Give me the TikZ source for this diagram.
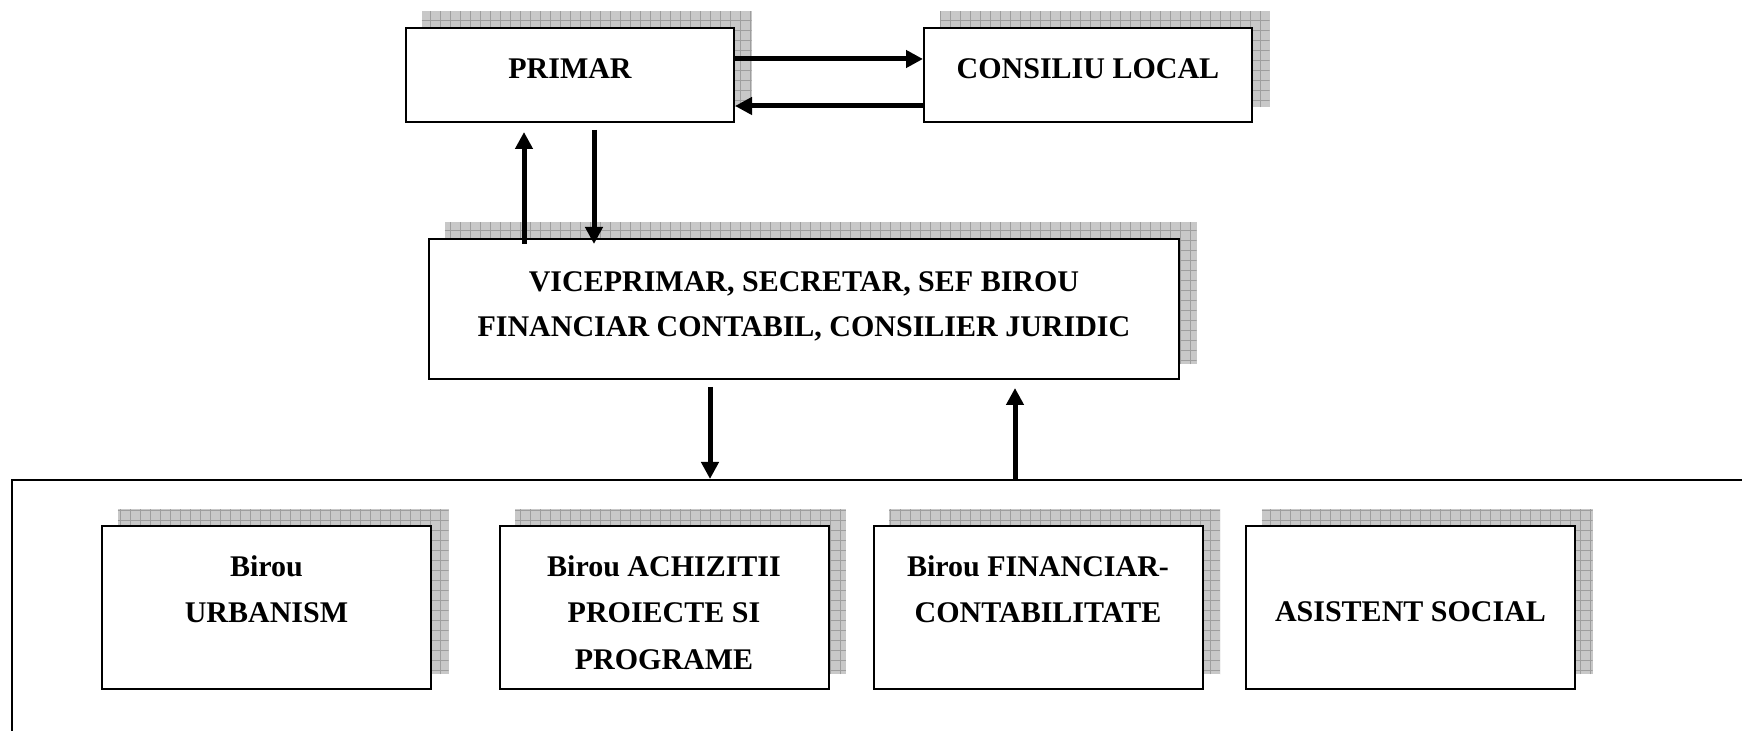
\documentclass[tikz,border=0pt]{standalone}
\usepackage{fontspec}
\setmainfont{Liberation Serif}
\usetikzlibrary{arrows.meta,positioning,backgrounds}
\definecolor{ShadowGray}{RGB}{200,200,200}
\definecolor{GridGray}{RGB}{158,158,158}

\begin{document}
\begin{tikzpicture}[x=0.5pt, y=-0.5pt, line width=1pt,
      every node/.append style={font=\bfseries\fontsize{15}{19}\selectfont, inner sep=0pt},
      arr/.style={-{Triangle[length=8.5pt,width=8.5pt]}, line width=2.5pt},
      shadowbox/.style={fill=ShadowGray, path picture={\draw[GridGray, line width=0.4pt, step=5pt]
        (path picture bounding box.south west) grid (path picture bounding box.north east);}}]
    \tikzstyle{head} = [draw, fill=white, minimum width=164pt, minimum height=47pt, text height=25.5pt, text depth=21.5pt]
    \tikzstyle{office} = [draw, fill=white, minimum width=164.5pt, minimum height=81.5pt]
    \tikzstyle{txt} = [align=center, font=\bfseries\fontsize{15}{22.5}\selectfont]
    \tikzstyle{wide} = [align=center, font=\bfseries\fontsize{15}{23.25}\selectfont]
    \useasboundingbox (0,0) rectangle (1742,731);
    \clip (0,0) rectangle (1742,731);
    \node [head] (primar) at (570,75) {PRIMAR};
    \node [head, right=94pt of primar] (consiliu) {CONSILIU LOCAL};
    \node [draw, fill=white, minimum width=375pt, minimum height=70pt] (vice) at (804,309) {};
    \node [txt, anchor=north] (vice_text) at ([yshift=-16.35pt]vice.north)
      {VICEPRIMAR, SECRETAR, SEF BIROU\\FINANCIAR CONTABIL, CONSILIER JURIDIC};
    \node [draw, minimum width=900pt, minimum height=140pt, anchor=north west] (servicii) at (11,479) {};
    \node [office] (urbanism) at (266.5,607.5) {};
    \node [office] (achizitii) at (664,607.5) {};
    \node [office] (financiar) at (1038,607.5) {};
    \node [office] (asistent) at (1410.5,607.5) {};
    \node [wide, anchor=north] (urbanism_text) at ([yshift=-14.6pt]urbanism.north) {Birou\\URBANISM};
    \node [wide, anchor=north] (achizitii_text) at ([yshift=-14.6pt]achizitii.north) {Birou ACHIZITII\\PROIECTE SI\\PROGRAME};
    \node [wide, anchor=north] (financiar_text) at ([yshift=-14.6pt]financiar.north) {Birou FINANCIAR-\\CONTABILITATE};
    \node [anchor=base] (asistent_text) at ([yshift=-48.5pt]asistent.north) {ASISTENT SOCIAL};
    \draw [arr] ([yshift=8pt]primar.east) -- ([yshift=8pt]primar.east -| consiliu.west);
    \draw [arr] ([yshift=-15.5pt]consiliu.west) -- ([yshift=-15.5pt]consiliu.west -| primar.east);
    \draw [arr] ([xshift=-23pt,yshift=-3pt]primar.south |- vice.north) -- ([xshift=-23pt,yshift=-4.5pt]primar.south);
    \draw [arr] ([xshift=12pt,yshift=-3.5pt]primar.south) -- ([xshift=12pt,yshift=-3pt]primar.south |- vice.north);
    \draw [arr] ([xshift=-47pt,yshift=-3.5pt]vice.south) -- ([xshift=-47pt]vice.south |- servicii.north);
    \draw [arr] ([xshift=105.5pt]vice.south |- servicii.north) -- ([xshift=105.5pt,yshift=-4pt]vice.south);
    \begin{pgfonlayer}{background}
      \foreach \n in {primar,consiliu,vice,urbanism,achizitii,financiar,asistent}
        \path [shadowbox] ([shift={(8.25pt,7.75pt)}]\n.south west) rectangle ([shift={(8.25pt,7.75pt)}]\n.north east);
    \end{pgfonlayer}
\end{tikzpicture}
\end{document}
